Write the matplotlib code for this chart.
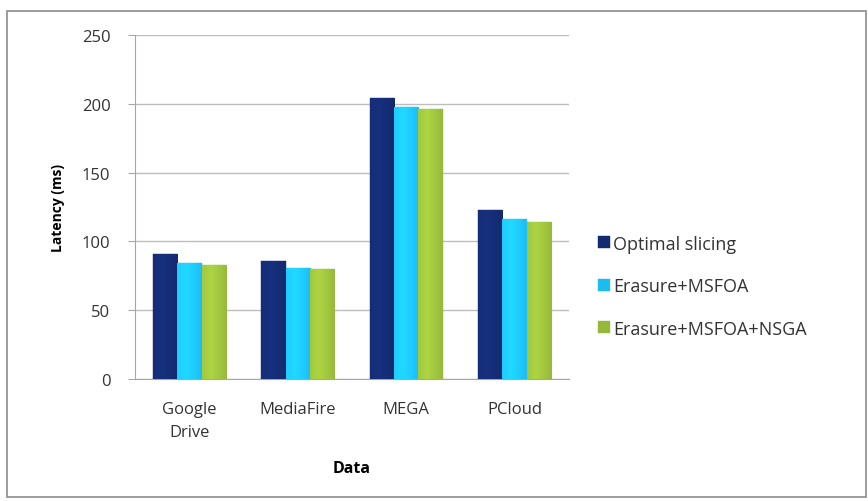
import matplotlib.pyplot as plt
import matplotlib.colors as mcolors
import numpy as np
from matplotlib.patches import Rectangle

plt.rcParams['font.family'] = ['Open Sans', 'DejaVu Sans']

categories = ['Google\nDrive', 'MediaFire', 'MEGA', 'PCloud']
series = ['Optimal slicing', 'Erasure+MSFOA', 'Erasure+MSFOA+NSGA']
optimal = [91, 86, 204, 123]
msfoa = [84, 81, 198, 116]
nsga = [83, 80, 196, 114]
colors = ['#142a6e', '#1cbcef', '#95b83a']

fig = plt.figure(figsize=(8.68, 5.02), dpi=100)
ax = fig.add_axes([0.156, 0.243, 0.499, 0.685])

# outer frame like the excel chart area
fig.patches.append(Rectangle((0.008, 0.008), 0.99, 0.968, transform=fig.transFigure,
                             fill=False, edgecolor='#8c8c8c', linewidth=1.2))

x = np.arange(len(categories))
w = 0.225
grad = np.linspace(0, 1, 50)
grad = 1 - 0.6 * np.abs(grad - 0.35) ** 1.2
for i, (vals, c) in enumerate(zip([optimal, msfoa, nsga], colors)):
    bars = ax.bar(x + (i - 1) * w, vals, w, color=c, label=series[i], zorder=2,
                  edgecolor=c, linewidth=0.3)
    base = np.array(mcolors.to_rgb(c))
    img = np.zeros((1, 50, 3))
    for k, g in enumerate(grad):
        img[0, k] = np.clip(base * (0.75 + 0.4 * g), 0, 1)
    for b in bars:
        x0, y0 = b.get_x(), b.get_y()
        im = ax.imshow(img, extent=[x0, x0 + b.get_width(), y0, y0 + b.get_height()],
                       aspect='auto', zorder=3)
        im.set_clip_path(b)

ax.set_xlim(-0.5, 3.5)
ax.set_ylim(0, 250)
ax.set_yticks([0, 50, 100, 150, 200, 250])
ax.set_xticks(x)
ax.set_xticklabels(categories, linespacing=1.6)
ax.yaxis.grid(True, color='#bdbdbd', linewidth=1, zorder=0)
ax.set_axisbelow(True)
for s in ['top', 'right']:
    ax.spines[s].set_visible(False)
ax.spines['left'].set_color('#a6a6a6')
ax.spines['bottom'].set_color('#a6a6a6')
ax.tick_params(axis='y', length=5, color='#a6a6a6', labelsize=12, labelcolor='#333333', pad=13)
ax.tick_params(axis='x', length=0, labelsize=12, labelcolor='#333333', pad=16)
ax.set_ylabel('Latency (ms)', fontsize=10, fontweight='bold', labelpad=12)
ax.set_xlabel('Data', fontsize=11.5, fontweight='bold', labelpad=14)

leg = ax.legend(loc='center left', bbox_to_anchor=(1.03, 0.27), frameon=False,
                fontsize=13, handlelength=0.65, handleheight=0.65, handletextpad=0.2,
                labelspacing=1.35)
for t in leg.get_texts():
    t.set_color('#333333')

fig.savefig('out.png', dpi=100)
